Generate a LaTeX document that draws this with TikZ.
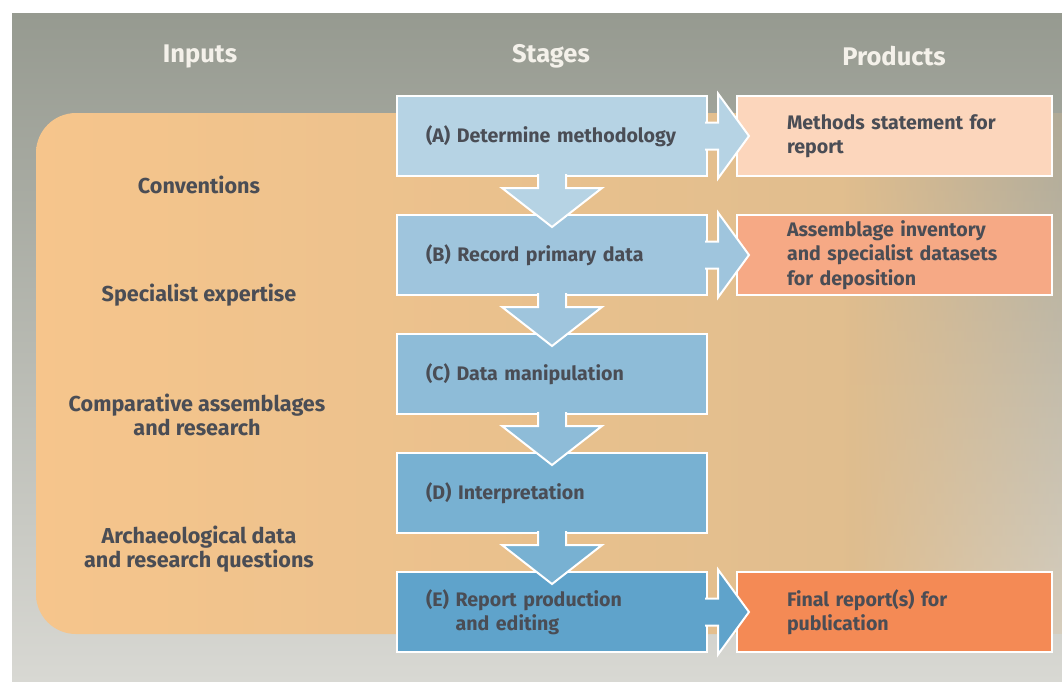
\documentclass[tikz,border=0pt]{standalone}
\usepackage{fontspec}
\setmainfont{Fira Sans}
\usetikzlibrary{calc,fadings,positioning}

\definecolor{bgtop}{HTML}{969A90}
\definecolor{bgbottom}{HTML}{D8D8D3}
\definecolor{orangeL}{HTML}{F6C58C}
\definecolor{orangeR}{HTML}{DFBD8E}
\definecolor{stageA}{HTML}{B6D3E4}
\definecolor{stageB}{HTML}{9FC5DD}
\definecolor{stageC}{HTML}{8EBCD8}
\definecolor{stageD}{HTML}{78B1D2}
\definecolor{stageE}{HTML}{5FA3CB}
\definecolor{prodA}{HTML}{FCD6BC}
\definecolor{prodB}{HTML}{F6A985}
\definecolor{prodE}{HTML}{F48A55}
\definecolor{ink}{HTML}{4A4D55}
\definecolor{headink}{HTML}{F4F1EA}

\tikzfading[name=fadetoright, left color=transparent!0, right color=transparent!75]

% block arrow from box #1 down to box #2
\newcommand{\downblock}[3]{%
  \draw[blockarrow, fill=#3] ($(#1.south)+(-14,-3)$) -- ($(#1.south)+(-14,11)$) -- ($(#1.south)+(-50,11)$)
    -- ($(#2.north)+(0,13)$) -- ($(#1.south)+(50,11)$) -- ($(#1.south)+(14,11)$) -- ($(#1.south)+(14,-3)$);}
% block arrow from stage #1 right to product #2
\newcommand{\rightblock}[3]{%
  \draw[blockarrow, fill=#3] ($(#1.east)+(-3,-13.5)$) -- ($(#1.east)+(10,-13.5)$) -- ($(#1.east)+(10,-42.5)$)
    -- ($(#2.west)+(13,0)$) -- ($(#1.east)+(10,42.5)$) -- ($(#1.east)+(10,13.5)$) -- ($(#1.east)+(-3,13.5)$);}

\begin{document}
\begin{tikzpicture}[x=1pt,y=-1pt,line join=miter,
  txt/.style={font=\bfseries\fontsize{19.6}{24.5}\selectfont, text=ink},
  stagebox/.style={txt, draw=white, line width=2pt, minimum height=80pt, text width=252pt, inner xsep=29pt, align=left},
  prodbox/.style={txt, draw=white, line width=2pt, minimum height=80pt, text width=215pt, inner xsep=50pt, align=left},
  inputlabel/.style={font=\bfseries\fontsize{21.6}{24.5}\selectfont, text=ink, align=center},
  header/.style={font=\bfseries\fontsize{25.5}{28}\selectfont, text=headink},
  blockarrow/.style={draw=white, line width=2pt}]
  \useasboundingbox (0,0) rectangle (1062,681);
  \shade[top color=bgtop, bottom color=bgbottom] (12,13) rectangle (1062,681);
  % orange input band, solid on the left and fading out on the right
  \begin{scope}
    \clip (0,0) rectangle (850,681);
    \shade[left color=orangeL, right color=orangeR, rounded corners=40pt] (36,113) rectangle (900,634);
  \end{scope}
  \fill[orangeR, path fading=fadetoright] (849.5,113) rectangle (1062,634);

  % headers
  \node[header] (hin) at (200,56) {Inputs};
  \node[header] (hst) at (551,56) {Stages};
  \node[header] (hpr) at (894,56) {Products};

  % inputs
  \node[inputlabel] (conv) at (199,185) {Conventions};
  \node[inputlabel] (spec) at (199,295) {Specialist expertise};
  \node[inputlabel] (comp) at (197,415) {Comparative assemblages\\and research};
  \node[inputlabel] (arch) at (199,549) {Archaeological data\\and research questions};

  % stages
  \node[stagebox, fill=stageA] (a) at (552,136) {(A) Determine methodology};
  \node[stagebox, fill=stageB] (b) at (552,255) {(B) Record primary data};
  \node[stagebox, fill=stageC] (c) at (552,374) {(C) Data manipulation};
  \node[stagebox, fill=stageD] (d) at (552,493) {(D) Interpretation};
  \node[stagebox, fill=stageE] (e) at (552,612) {(E) Report production\\\phantom{(E) }and editing};

  % products
  \node[prodbox, fill=prodA] (pa) at (894.5,136) {Methods statement for\\report};
  \node[prodbox, fill=prodB] (pb) at (894.5,255) {Assemblage inventory\\and specialist datasets\\for deposition};
  \node[prodbox, fill=prodE] (pe) at (894.5,612) {Final report(s) for\\publication};

  % arrows
  \downblock{a}{b}{stageA}
  \downblock{b}{c}{stageB}
  \downblock{c}{d}{stageC}
  \downblock{d}{e}{stageD}
  \rightblock{a}{pa}{stageA}
  \rightblock{b}{pb}{stageB}
  \rightblock{e}{pe}{stageE}
\end{tikzpicture}
\end{document}
